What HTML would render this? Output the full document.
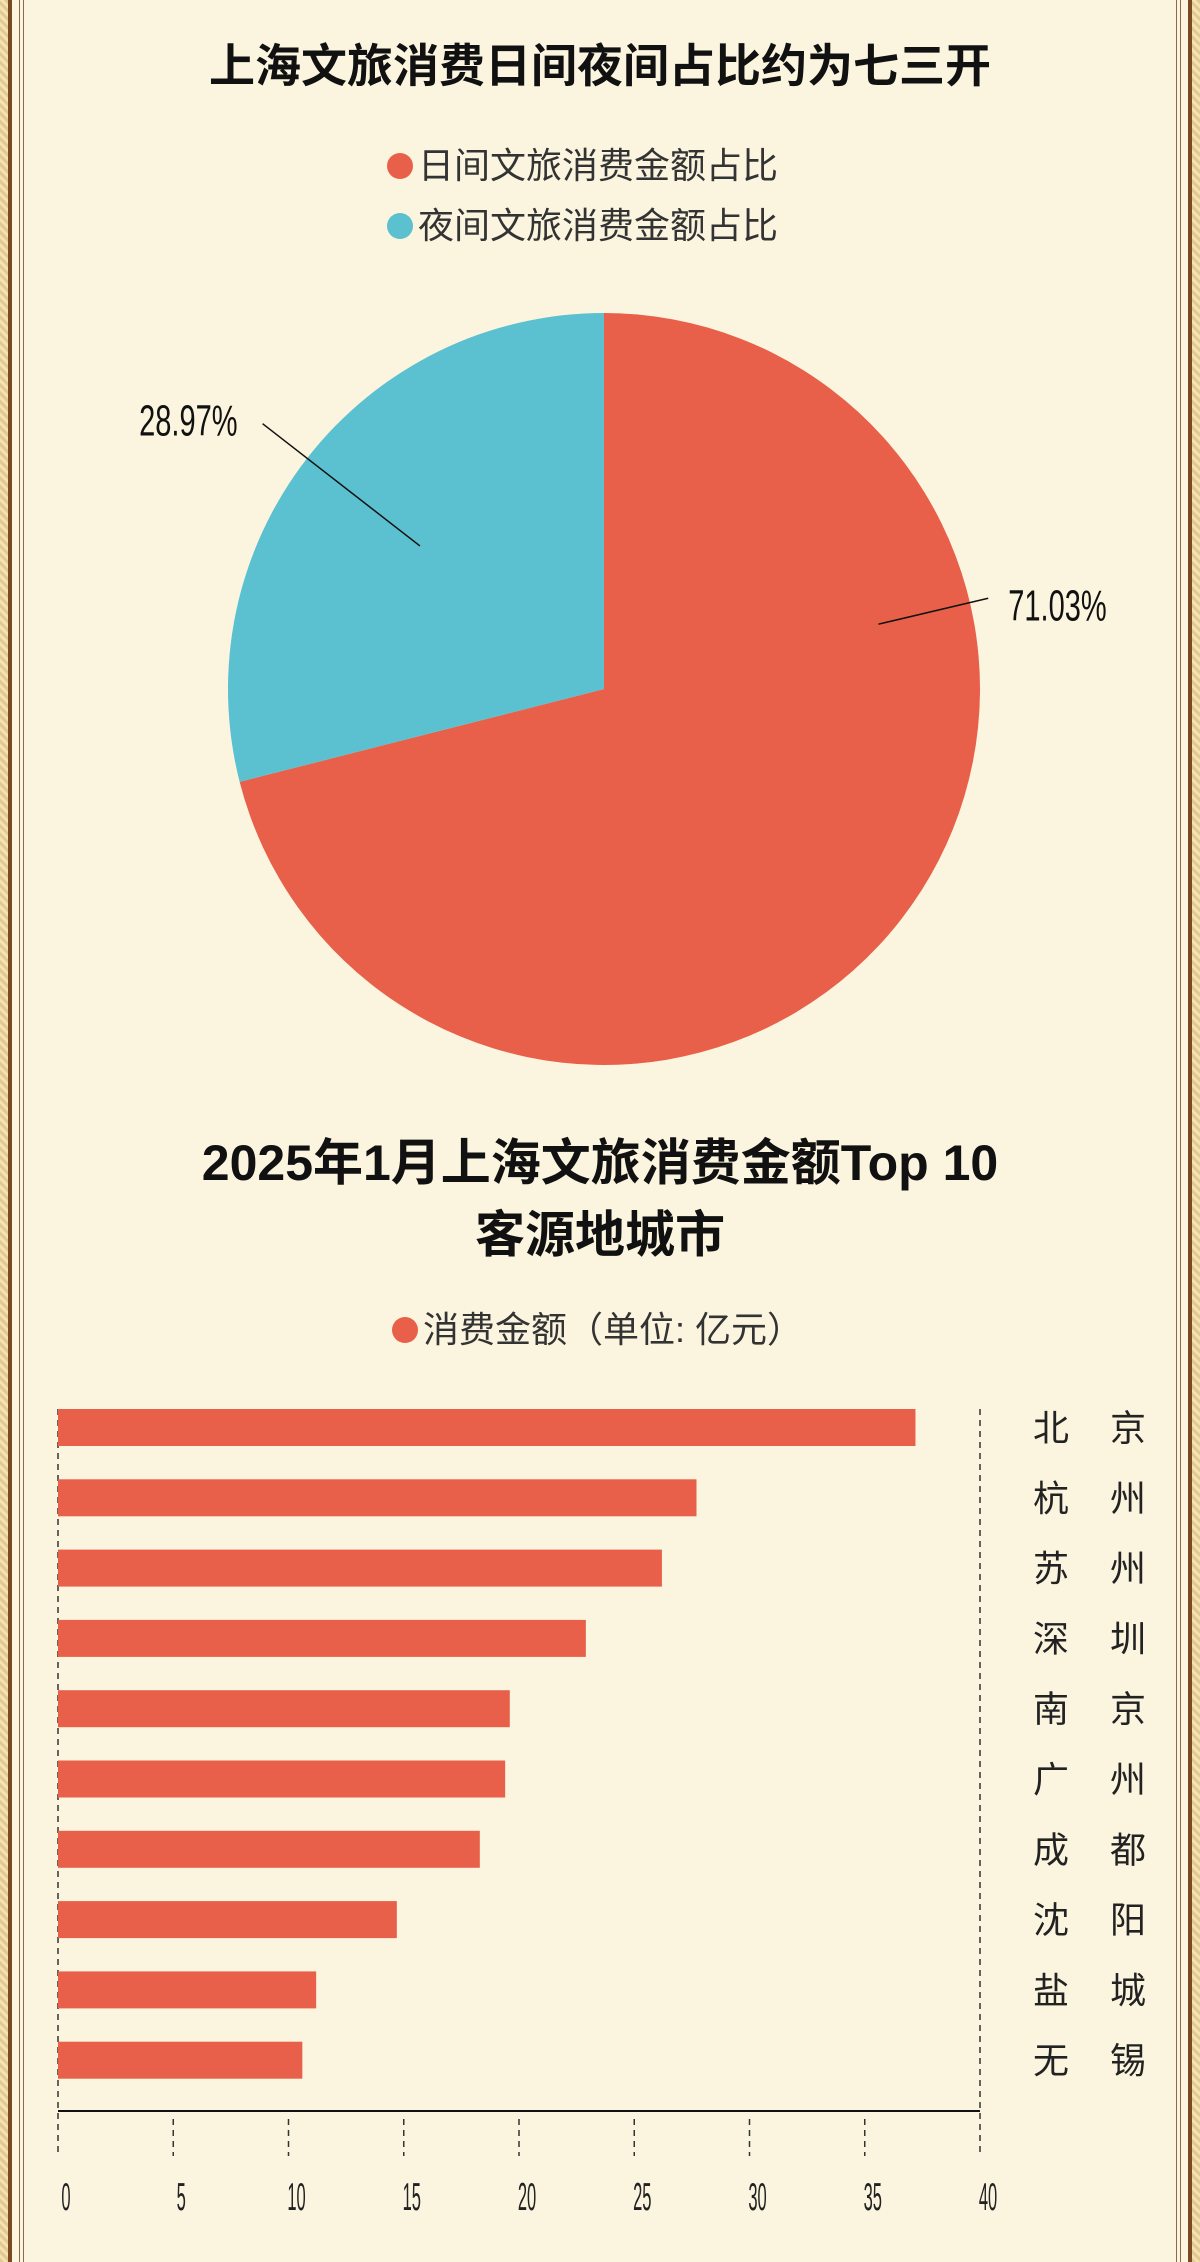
<!DOCTYPE html>
<html><head><meta charset="utf-8">
<style>
html,body{margin:0;padding:0;}
body{width:1200px;height:2262px;background:#FBF5DF;position:relative;overflow:hidden;font-family:"Liberation Sans","Noto Sans CJK SC",sans-serif;}
.bl{position:absolute;top:0;bottom:0;}
</style></head>
<body>
<div class="bl" style="left:0;width:8px;background:repeating-linear-gradient(45deg,#E3C98E 0 3px,#F3E2B5 3px 6px);"></div>
<div class="bl" style="left:8px;width:4px;background:#7A4A22;"></div>
<div class="bl" style="left:19px;width:1px;background:#8a6a4a;"></div>
<div class="bl" style="left:23px;width:1px;background:#8a6a4a;"></div>
<div class="bl" style="right:0;width:8px;background:repeating-linear-gradient(45deg,#E3C98E 0 3px,#F3E2B5 3px 6px);"></div>
<div class="bl" style="right:8px;width:4px;background:#7A4A22;"></div>
<div class="bl" style="right:19px;width:1px;background:#8a6a4a;"></div>
<div class="bl" style="right:23px;width:1px;background:#8a6a4a;"></div>

<svg id="chart" width="1200" height="2262" style="position:absolute;left:0;top:0" font-family="Liberation Sans, Noto Sans CJK SC, sans-serif">
<text x="600" y="82" text-anchor="middle" font-size="46" font-weight="bold" fill="#111">上海文旅消费日间夜间占比约为七三开</text>
<circle cx="400" cy="166" r="13" fill="#E8604A"/>
<text x="418" y="178" font-size="36" fill="#333">日间文旅消费金额占比</text>
<circle cx="400" cy="226" r="13" fill="#5BC0D0"/>
<text x="418" y="238" font-size="36" fill="#333">夜间文旅消费金额占比</text>
<g id="pie"></g>
<text x="600" y="1180" text-anchor="middle" font-size="50" font-weight="bold" fill="#111">2025年1月上海文旅消费金额Top 10</text>
<text x="600" y="1252" text-anchor="middle" font-size="50" font-weight="bold" fill="#111">客源地城市</text>
<circle cx="405" cy="1330" r="13" fill="#E8604A"/>
<text x="423" y="1342" font-size="36" fill="#333">消费金额（单位: 亿元）</text>
<g id="bars"></g>
</svg>
<script>
const pieLabels=["日间文旅消费金额占比","夜间文旅消费金额占比"];
const pieValues=[71.03,28.97];
const pieColors=["#E8604A","#5BC0D0"];
const cities=["北京","杭州","苏州","深圳","南京","广州","成都","沈阳","盐城","无锡"];
const amounts=[37.2,27.7,26.2,22.9,19.6,19.4,18.3,14.7,11.2,10.6];
const xTicks=[0,5,10,15,20,25,30,35,40];
const NS="http://www.w3.org/2000/svg";
function mk(tag,attrs,parent){const e=document.createElementNS(NS,tag);for(const k in attrs)e.setAttribute(k,attrs[k]);parent.appendChild(e);return e;}
// pie
const pie=document.getElementById('pie');
const cx=604,cy=689,R=376;
const total=pieValues.reduce((a,b)=>a+b,0);
let a0=0;
function pt(a,r){const t=a/total*2*Math.PI;return [cx+r*Math.sin(t),cy-r*Math.cos(t)];}
pieValues.forEach((v,i)=>{
  const p0=pt(a0,R),p1=pt(a0+v,R);const large=v/total>0.5?1:0;
  const s=mk('path',{d:`M${cx},${cy}L${p0[0]},${p0[1]}A${R},${R} 0 ${large} 1 ${p1[0]},${p1[1]}Z`,fill:pieColors[i]},pie);
  
  
  const mid=a0+v/2;
  const l0=pt(mid,R*0.62),l1=pt(mid,R*0.98);
  let lx,ly,dx;
  if(i===0){const q=pt(a0+v*0.3,R*0.75),q2=pt(a0+v*0.3,R*1.05);l0[0]=q[0];l0[1]=q[1];l1[0]=q2[0];l1[1]=q2[1];lx=l1[0]+20;ly=l1[1]+22;dx='start';}
  else{const q=pt(a0+v*0.5,R*0.62),q2=pt(a0+v*0.5,R*1.15);l0[0]=q[0];l0[1]=q[1];l1[0]=q2[0];l1[1]=q2[1];lx=l1[0]-25;ly=l1[1]+12;dx='end';}
  const ln=mk('line',{x1:l0[0],y1:l0[1],x2:l1[0],y2:l1[1],stroke:'#111','stroke-width':1.5},pie);
  
  
  const g=mk('g',{transform:`translate(${lx},${ly}) scale(0.66,1)`},pie);
  const t=mk('text',{x:0,y:0,'text-anchor':dx,'font-size':44,fill:'#111'},g);
  t.textContent=v.toFixed(2)+'%';
  
  
  a0+=v;
});
// bars
const bars=document.getElementById('bars');
const x0=58,x1=980,maxV=40,top0=1409,step=70.3,bh=37,axisY=2111;
const X=v=>x0+(x1-x0)*v/maxV;
const Y=i=>top0+i*step;
const l1=mk('line',{x1:x0,y1:top0,x2:x0,y2:2156,stroke:'#333','stroke-width':1.5,'stroke-dasharray':'6,5'},bars);


const l2=mk('line',{x1:x1,y1:top0,x2:x1,y2:2156,stroke:'#333','stroke-width':1.5,'stroke-dasharray':'6,5'},bars);


amounts.forEach((v,i)=>{
  const r=mk('rect',{x:X(0),y:Y(i),width:X(v)-X(0),height:bh,fill:'#E8604A'},bars);
  
  
  const c=cities[i];
  [0,1].forEach(k=>{
    const t=mk('text',{x:k?1146:1033,y:Y(i)+bh/2+13,'text-anchor':k?'end':'start','font-size':36,fill:'#222'},bars);
    t.textContent=c[k];
    
    
  });
});
const ax=mk('line',{x1:x0,y1:axisY,x2:x1,y2:axisY,stroke:'#111','stroke-width':2},bars);


xTicks.forEach(v=>{
  if(v>0&&v<40){const tk=mk('line',{x1:X(v),y1:axisY+8,x2:X(v),y2:2156,stroke:'#333','stroke-width':1.5,'stroke-dasharray':'6,5'},bars);
  
  }
  const g=mk('g',{transform:`translate(${X(v)+8},2210) scale(0.55,1.3)`},bars);
  const t=mk('text',{x:0,y:0,'text-anchor':'middle','font-size':30,fill:'#222'},g);
  t.textContent=v;
  
  
});
</script>
</body></html>
